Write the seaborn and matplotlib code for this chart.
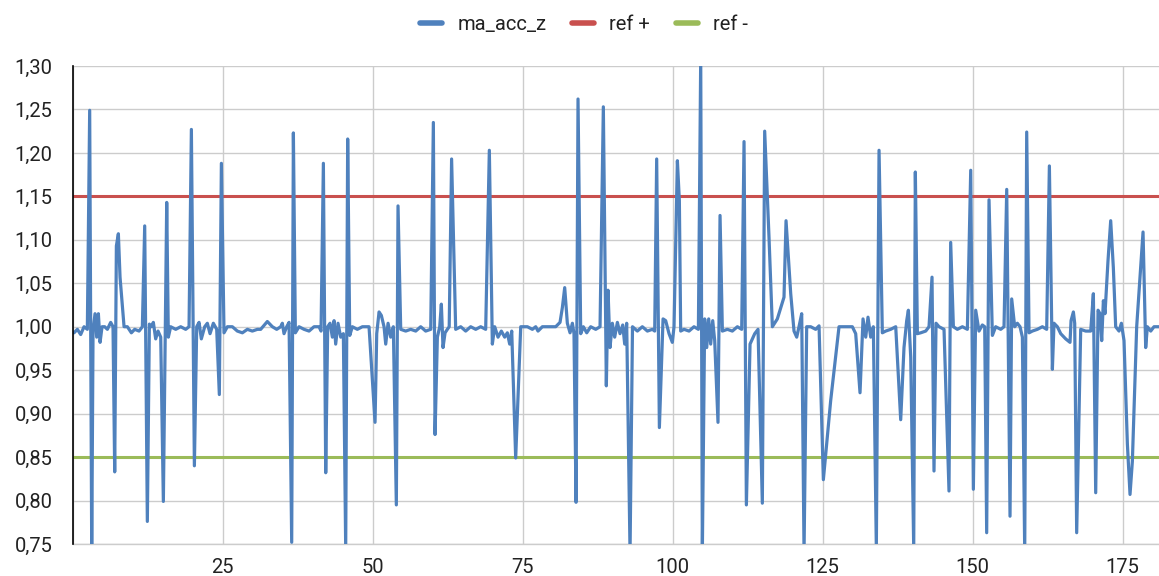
import numpy as np
import pandas as pd
import matplotlib
matplotlib.use("Agg")
import matplotlib.pyplot as plt
from matplotlib.ticker import FuncFormatter, MultipleLocator
from matplotlib.lines import Line2D
import seaborn as sns

# Time axis (s) and smoothed z-acceleration samples
t = [
    0.22, 0.78, 1.33, 1.89, 2.44, 2.83, 3.17, 3.39, 3.72, 4.0, 4.28, 4.56, 4.89, 5.33, 5.78, 6.33, 6.72,
    7.0, 7.28, 7.61, 7.89, 8.56, 9.11, 9.78, 10.33, 11.06, 11.61, 12.0, 12.44, 12.78, 13.11, 13.44,
    13.83, 14.22, 14.67, 15.11, 15.67, 15.94, 16.33, 17.17, 18.0, 18.83, 19.39, 19.78, 20.28, 20.67,
    21.06, 21.44, 22.0, 22.44, 22.89, 23.44, 24.0, 24.44, 24.78, 25.22, 25.78, 26.61, 27.44, 28.28,
    29.11, 29.94, 30.78, 31.33, 32.44, 33.28, 34.0, 34.67, 34.94, 35.22, 35.67, 36.06, 36.5, 36.78,
    37.11, 37.72, 38.56, 39.39, 40.22, 41.06, 41.39, 41.78, 42.17, 42.5, 42.89, 43.28, 43.56, 43.83,
    44.22, 44.67, 45.11, 45.5, 45.83, 46.17, 46.61, 47.44, 48.28, 49.39, 50.39, 50.67, 51.06, 51.44,
    51.89, 52.17, 52.56, 53.0, 53.44, 53.94, 54.22, 54.67, 55.5, 56.33, 57.17, 58.0, 58.83, 59.67,
    60.11, 60.39, 60.78, 61.17, 61.44, 61.72, 62.06, 62.44, 62.75, 63.15, 63.83, 64.67, 65.5, 66.33,
    67.17, 68.0, 68.83, 69.44, 69.94, 70.33, 70.89, 71.44, 72.0, 72.44, 72.83, 73.17, 73.83, 74.67,
    75.78, 76.61, 77.17, 77.55, 78.28, 79.39, 80.5, 81.22, 81.61, 82.0, 82.44, 82.89, 83.28, 83.55,
    83.89, 84.22, 84.67, 85.11, 85.67, 86.33, 87.17, 87.89, 88.44, 88.94, 89.22, 89.55, 89.94, 90.33,
    90.78, 91.22, 91.67, 92.0, 92.33, 92.89, 93.3, 94.11, 94.94, 95.78, 96.61, 97.0, 97.33, 97.78,
    98.39, 98.83, 99.39, 99.94, 100.22, 100.78, 101.11, 101.33, 101.89, 102.72, 103.55, 104.28,
    104.67, 104.94, 105.33, 105.67, 106.0, 106.33, 106.67, 107.0, 107.55, 107.89, 108.28, 109.11,
    109.94, 110.78, 111.5, 111.89, 112.28, 112.89, 113.67, 114.22, 114.94, 115.33, 116.05, 116.61,
    117.44, 118.55, 118.89, 119.67, 120.22, 120.67, 121.05, 121.5, 121.89, 122.33, 123.0, 123.83,
    124.39, 125.11, 126.33, 127.72, 128.83, 129.94, 130.5, 131.22, 131.72, 132.17, 132.55, 133.0,
    133.44, 133.94, 134.39, 134.94, 135.5, 136.33, 137.17, 138.0, 138.55, 139.0, 139.28, 139.67,
    140.17, 140.44, 140.78, 141.33, 142.17, 142.72, 143.22, 143.55, 143.89, 144.39, 145.22, 146.05,
    146.33, 146.78, 147.44, 148.28, 149.11, 149.67, 150.11, 150.5, 151.05, 151.61, 152.0, 152.33,
    152.72, 153.28, 153.83, 154.67, 155.22, 155.67, 156.22, 156.5, 157.0, 157.44, 157.89, 158.28,
    158.67, 159.0, 159.39, 159.94, 160.78, 161.61, 162.33, 162.78, 163.28, 163.55, 164.11, 164.67,
    165.5, 166.22, 166.39, 166.78, 167.0, 167.33, 168.0, 168.83, 169.67, 170.11, 170.5, 170.89,
    171.22, 171.5, 171.78, 172.05, 172.55, 173.0, 173.44, 173.83, 174.39, 174.78, 175.22, 175.78,
    176.22, 176.61, 177.33, 177.89, 178.39, 178.83, 179.11, 179.67, 180.22, 181.17,
]

ma_acc_z = [
    0.993, 0.997, 0.991, 1.000, 0.997, 1.249, 0.740, 0.995, 1.015, 0.988, 1.015, 0.982, 1.000, 1.000, 0.997, 1.005, 1.000,
    0.833, 1.093, 1.107, 1.057, 1.000, 1.000, 0.993, 0.997, 0.995, 1.000, 1.116, 0.776, 1.003, 1.000, 1.005,
    0.986, 0.995, 0.988, 0.799, 1.143, 0.988, 1.000, 0.997, 1.000, 0.997, 1.000, 1.227, 0.840, 1.000,
    1.005, 0.986, 1.000, 1.004, 0.992, 1.004, 0.997, 0.922, 1.188, 0.993, 1.000, 1.000, 0.995, 0.993,
    0.997, 0.995, 0.997, 0.997, 1.006, 1.000, 0.997, 1.000, 1.004, 0.992, 1.000, 1.005, 0.752, 1.223,
    0.993, 1.000, 0.997, 0.995, 1.000, 1.000, 0.995, 1.188, 0.832, 1.000, 1.004, 0.988, 1.007, 0.980,
    1.004, 0.988, 0.992, 0.745, 1.216, 0.990, 1.000, 0.997, 1.000, 1.000, 0.890, 0.992, 1.017, 1.013,
    1.000, 0.980, 1.004, 0.988, 1.000, 0.795, 1.139, 0.997, 0.995, 0.997, 0.995, 1.000, 0.995, 0.997,
    1.235, 0.876, 0.988, 1.000, 1.026, 0.976, 0.993, 0.997, 1.000, 1.193, 0.997, 1.000, 0.995, 1.000,
    0.997, 1.000, 0.997, 1.203, 0.980, 1.000, 0.988, 0.995, 0.988, 0.993, 0.980, 0.995, 0.849, 1.000,
    1.000, 0.997, 1.000, 0.995, 1.000, 1.000, 1.000, 1.005, 1.022, 1.045, 1.004, 0.993, 1.004, 0.992,
    0.798, 1.262, 0.992, 1.000, 0.993, 1.000, 0.997, 1.000, 1.253, 0.932, 1.042, 0.976, 1.004, 0.988,
    1.005, 0.992, 1.002, 0.980, 1.004, 0.740, 1.000, 0.995, 1.000, 0.995, 0.997, 0.995, 1.193, 0.884,
    1.009, 1.007, 0.992, 0.982, 1.000, 1.191, 1.145, 0.995, 0.997, 0.995, 1.000, 0.997,
    1.310, 0.740, 1.009, 0.976, 1.009, 0.980, 1.007, 0.984, 0.890, 1.128, 0.995, 0.997,
    0.995, 1.000, 0.997, 1.213, 0.795, 0.980, 0.992, 0.997, 0.797, 1.225, 1.103, 1.000,
    1.009, 1.034, 1.122, 1.038, 0.995, 0.988, 1.000, 1.015, 0.740, 1.000, 1.000, 0.997,
    1.001, 0.824, 0.915, 1.000, 1.000, 1.000, 0.992, 0.924, 1.009, 0.988, 1.011, 0.988,
    1.000, 0.745, 1.203, 0.993, 0.995, 0.997, 1.000, 0.893, 0.976, 1.007, 1.019, 0.965,
    0.745, 1.178, 0.992, 0.993, 0.995, 1.000, 1.057, 0.834, 1.004, 1.000, 0.997, 0.811,
    1.097, 1.000, 0.997, 1.000, 0.997, 1.180, 0.813, 1.019, 0.995, 1.002, 1.000, 0.763,
    1.146, 0.990, 1.000, 0.997, 1.000, 1.158, 0.782, 1.032, 1.000, 1.004, 1.000, 0.988,
    0.740, 1.224, 0.993, 0.995, 0.997, 1.000, 0.997, 1.185, 0.951, 1.004, 1.000, 0.992,
    0.986, 0.982, 1.007, 1.017, 1.004, 0.763, 0.997, 0.995, 0.995, 1.038, 0.809, 1.019,
    1.015, 0.984, 1.030, 1.015, 1.076, 1.122, 1.068, 1.000, 0.995, 1.004, 0.984, 0.865,
    0.807, 0.845, 1.000, 1.057, 1.109, 0.976, 1.000, 0.995, 1.000, 1.000,
]

# Reference thresholds
ref_plus = 1.15
ref_minus = 0.85

series_names = ["ma_acc_z", "ref +", "ref -"]
series_colors = ["#4f81bd", "#c9504e", "#9bbb59"]

t_arr = np.asarray(t)
df = pd.concat([
    pd.DataFrame({"t": t_arr, "value": ma_acc_z, "series": "ma_acc_z"}),
    pd.DataFrame({"t": [0.0, 182.0], "value": [ref_plus, ref_plus], "series": "ref +"}),
    pd.DataFrame({"t": [0.0, 182.0], "value": [ref_minus, ref_minus], "series": "ref -"}),
], ignore_index=True)

sns.set_style("white")
plt.rcParams["font.family"] = ["Roboto", "DejaVu Sans"]

W, H = 1159, 576
fig = plt.figure(figsize=(W / 100, H / 100), dpi=100)
ax = fig.add_axes([72.7 / W, 32 / H, (W - 72.7) / W, 478 / H])

palette = dict(zip(series_names, series_colors))
# reference lines first, signal on top
for name, lw, z in [("ref +", 2.2, 2), ("ref -", 2.2, 2), ("ma_acc_z", 2.3, 3)]:
    sub = df[df["series"] == name]
    sns.lineplot(data=sub, x="t", y="value", color=palette[name], linewidth=lw,
                 estimator=None, sort=False, ax=ax, zorder=z, legend=False)

ax.set_xlim(0, (W - 72.7) / 6.0)
ax.set_ylim(0.75, 1.30)
ax.set_xlabel("")
ax.set_ylabel("")

ax.xaxis.set_major_locator(MultipleLocator(25))
ax.yaxis.set_major_locator(MultipleLocator(0.05))
ax.yaxis.set_major_formatter(FuncFormatter(lambda v, p: f"{v:.2f}".replace(".", ",")))
ax.xaxis.set_major_formatter(FuncFormatter(lambda v, p: "" if v == 0 else f"{int(round(v))}"))

ax.grid(True, color="#cccccc", linewidth=1.0, zorder=0)
ax.set_axisbelow(True)

for s in ["top", "right"]:
    ax.spines[s].set_visible(False)
ax.spines["bottom"].set_color("#cccccc")
ax.spines["bottom"].set_linewidth(1.0)
ax.spines["left"].set_color("black")
ax.spines["left"].set_linewidth(1.2)
ax.spines["left"].set_zorder(5)

ax.tick_params(axis="y", direction="inout", length=15, width=1.2, color="black",
               labelsize=14.5, labelcolor="#222222", pad=7)
ax.tick_params(axis="x", length=0, labelsize=14.5, labelcolor="#222222", pad=10)

handles = [Line2D([0], [0], color=c, linewidth=4.0) for c in series_colors]
fig.legend(handles, series_names, loc="center", bbox_to_anchor=(0.504, 0.958),
           ncol=3, frameon=False, fontsize=14.5, handlelength=1.08,
           handletextpad=0.75, columnspacing=1.3, labelcolor="#222222")

fig.savefig("out.png", dpi=100)
